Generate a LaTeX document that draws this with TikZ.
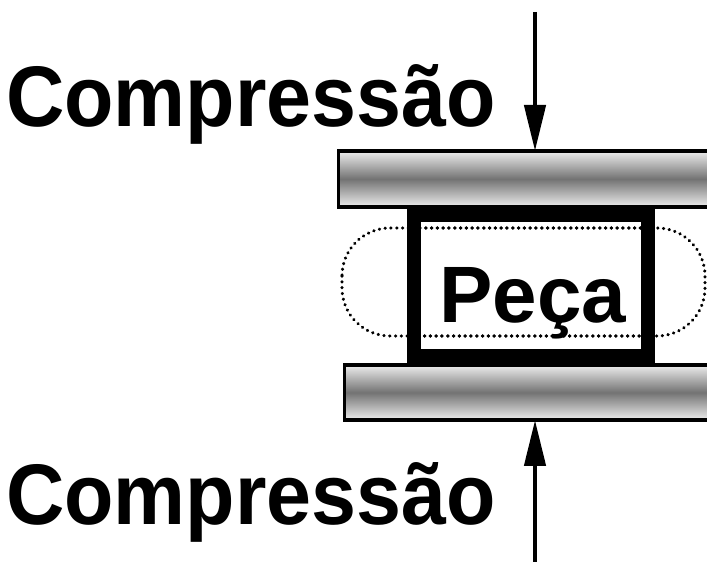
\documentclass[tikz,border=0pt]{standalone}
\usepackage{fontspec}
\usepackage{graphicx}
\setmainfont{Liberation Sans}
\usetikzlibrary{arrows.meta}
\tikzset{
  plate/.style={draw=black, line width=3.5pt, rectangle, inner sep=0pt, outer sep=0pt, anchor=north west,
    top color=white!93!black, bottom color=white!93!black, middle color=black!55},
  piece/.style={draw=black, line width=14pt, rectangle, inner sep=0pt, outer sep=0pt, anchor=north west},
  ghost/.style={draw=black, line width=3.2pt, dash pattern=on 0.3pt off 5.5pt, line cap=round, rounded corners=48pt},
  force/.style={line width=4.5pt, -{Triangle[length=46pt, width=21pt]}},
  bigtext/.style={inner sep=0pt, anchor=base west, font=\fontsize{86}{90}\selectfont\bfseries},
  midtext/.style={inner sep=0pt, anchor=base west, font=\fontsize{80}{84}\selectfont\bfseries}
}
\begin{document}
\begin{tikzpicture}[x=1pt,y=1pt]
\useasboundingbox (0,0) rectangle (707,562);
\fill[white] (0,0) rectangle (707,562);
% dotted outline
\draw[ghost] (342,334) rectangle (705,226);
% plates
\node[plate, minimum width=380pt, minimum height=56pt] (ptop) at (338.5,411) {};
\node[plate, minimum width=380pt, minimum height=55pt] (pbot) at (344.5,197) {};
% piece
\node[piece, minimum width=234pt, minimum height=141pt] (box) at (414,347) {};
% dotted outline over the piece interior
\begin{scope}
\clip (421,340) rectangle (641,213);
\draw[ghost] (342,334) rectangle (705,226);
\end{scope}
% labels
\node[midtext] (peca) at (439,239) {Peça};
\node[bigtext] (ctop) at (6,435) {\scalebox{0.94}[1]{Compressão}};
\node[bigtext] (cbot) at (6,37) {\scalebox{0.94}[1]{Compressão}};
% arrows
\coordinate (a1) at (535,550);
\coordinate (a2) at (535,0);
\draw[force] (a1) -- (a1 |- ptop.north);
\draw[force] (a2) -- (a2 |- pbot.south);
\end{tikzpicture}
\end{document}
